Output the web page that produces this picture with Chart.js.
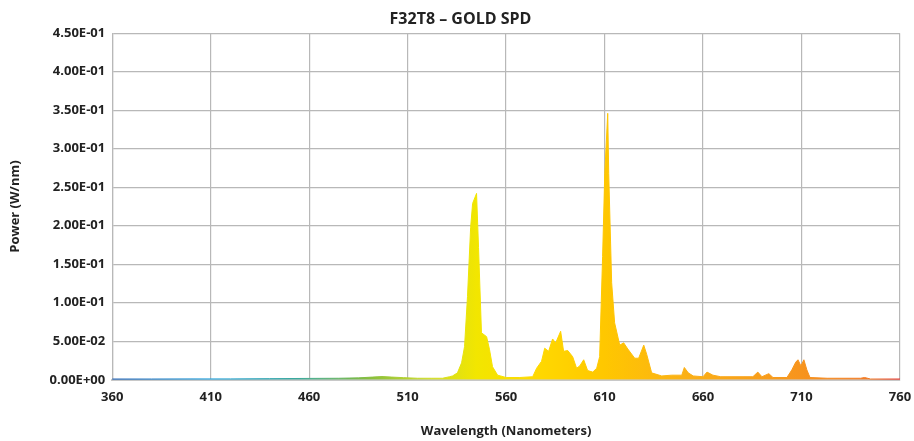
<!DOCTYPE html>
<html>
<head>
<meta charset="utf-8">
<script src="https://cdn.jsdelivr.net/npm/chart.js@4"></script>
<style>
  body { margin: 0; background: #fff; }
  #wrap { width: 914px; height: 441px; }
</style>
</head>
<body>
<div id="wrap"><canvas id="spdChart" width="914" height="441"></canvas></div>
<script>
"use strict";

// wavelength (nm) and spectral power (W/nm)
const wavelengths = [360, 380, 400, 420, 440, 460, 475, 485, 492, 497, 502, 508, 515, 522, 527.7, 531.3, 532.8, 535.3, 537.4, 538.9, 540.4, 542.0, 543.0, 545.0, 546.0, 547.5, 550.1, 551.6, 553.1, 555.7, 560, 567, 573.5, 575.5, 578.0, 579.6, 581.6, 583.6, 585.2, 587.7, 589.2, 591.3, 593.8, 595.8, 597.4, 599.4, 601.4, 604.0, 606.0, 607.5, 609.0, 610.1, 611.6, 612.1, 613.6, 615.1, 617.7, 619.7, 621.8, 625.3, 627.3, 629.9, 631.4, 633.9, 639, 644, 649.2, 650.5, 652.5, 655, 660, 662, 665, 669, 685.3, 687.8, 689.9, 693.4, 695.5, 702.6, 705.1, 707.1, 708.2, 709.7, 711.2, 712.7, 714.3, 723, 740, 742, 745, 760];
const power = [0.001, 0.001, 0.0012, 0.0012, 0.0015, 0.0018, 0.002, 0.0025, 0.0035, 0.0042, 0.0035, 0.0028, 0.002, 0.002, 0.002, 0.004, 0.005, 0.009, 0.022, 0.043, 0.108, 0.198, 0.229, 0.242, 0.172, 0.061, 0.056, 0.039, 0.017, 0.006, 0.003, 0.003, 0.004, 0.015, 0.024, 0.041, 0.037, 0.053, 0.048, 0.063, 0.037, 0.038, 0.030, 0.015, 0.018, 0.026, 0.012, 0.010, 0.015, 0.030, 0.160, 0.268, 0.346, 0.268, 0.126, 0.074, 0.045, 0.048, 0.040, 0.028, 0.028, 0.045, 0.033, 0.009, 0.005, 0.006, 0.006, 0.016, 0.009, 0.005, 0.004, 0.010, 0.006, 0.004, 0.004, 0.010, 0.004, 0.008, 0.003, 0.003, 0.013, 0.023, 0.026, 0.018, 0.026, 0.013, 0.003, 0.002, 0.002, 0.003, 0.001, 0.001];

const xTickLabels = ["360", "410", "460", "510", "560", "610", "660", "710", "760"];
const yTickLabels = ["0.00E+00", "5.00E-02", "1.00E-01", "1.50E-01", "2.00E-01", "2.50E-01", "3.00E-01", "3.50E-01", "4.00E-01", "4.50E-01"];

// colour of the fill along the spectrum
const spectrumNm = [360, 410, 455, 490, 520, 545, 575, 610, 650, 710, 745, 760];
const spectrumColors = ["#1c5fb5", "#2aa6df", "#3aa99a", "#86be3e", "#cddc28", "#f2e600", "#ffd900", "#ffc700", "#fbb116", "#f7941d", "#f27a26", "#e8312a"];

function spectrumFill(context) {
  const chart = context.chart;
  const area = chart.chartArea;
  if (!area) return "#ffc700";
  const xs = chart.scales.x;
  const g = chart.ctx.createLinearGradient(xs.getPixelForValue(360), 0, xs.getPixelForValue(760), 0);
  spectrumNm.forEach((nm, i) => {
    g.addColorStop((nm - 360) / 400, spectrumColors[i]);
  });
  return g;
}

const font = "'Open Sans', sans-serif";

var ctx = document.getElementById("spdChart").getContext("2d");
var spdChart = new Chart(ctx, {
  type: "line",
  data: {
    datasets: [{
      data: wavelengths.map((w, i) => ({ x: w, y: power[i] })),
      fill: "origin",
      backgroundColor: spectrumFill,
      borderColor: spectrumFill,
      borderWidth: 1,
      pointRadius: 0,
      tension: 0
    }]
  },
  options: {
    responsive: false,
    animation: false,
    layout: { padding: { left: 7, right: 0, top: 4, bottom: 2 } },
    plugins: {
      legend: { display: false },
      tooltip: { enabled: false },
      title: {
        display: true,
        text: "F32T8 – GOLD SPD",
        color: "#222",
        font: { family: font, size: 16, weight: "bold" },
        padding: { top: 6, bottom: 4 }
      }
    },
    scales: {
      x: {
        type: "linear",
        min: 360,
        max: 760,
        afterFit: (scale) => { scale.paddingRight = 14; },
        ticks: {
          stepSize: 50,
          color: "#222",
          padding: 10,
          font: { family: font, size: 13, weight: "bold" },
          callback: (v, i) => xTickLabels[i]
        },
        grid: { color: "#b8b8b8", lineWidth: 1.2, drawTicks: false },
        border: { color: "#c8c8c8", width: 2 },
        title: {
          display: true,
          text: "Wavelength (Nanometers)",
          color: "#222",
          font: { family: font, size: 13, weight: "bold" },
          padding: { top: 8, bottom: 0 }
        }
      },
      y: {
        min: 0,
        max: 0.45,
        ticks: {
          stepSize: 0.05,
          color: "#222",
          padding: 7,
          font: { family: font, size: 13, weight: "bold" },
          callback: (v, i) => yTickLabels[i]
        },
        grid: { color: "#b8b8b8", lineWidth: 1.2, drawTicks: false },
        border: { color: "#b8b8b8", width: 1.2 },
        title: {
          display: true,
          text: "Power (W/nm)",
          color: "#222",
          font: { family: font, size: 13, weight: "bold" },
          padding: { top: 0, bottom: 20 }
        }
      }
    }
  }
});
</script>
</body>
</html>
